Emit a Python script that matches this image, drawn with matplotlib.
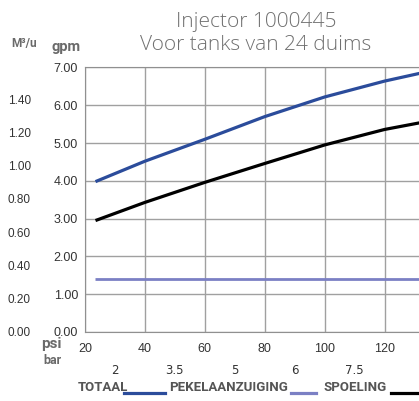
import matplotlib.pyplot as plt
from matplotlib.lines import Line2D

# pressure (psi) and flow (gpm)
psi = [23.5, 40, 60, 80, 100, 120, 132]
totaal = [3.98, 4.52, 5.10, 5.70, 6.22, 6.64, 6.85]
spoeling = [2.95, 3.43, 3.96, 4.46, 4.95, 5.36, 5.54]
pekel = [1.40, 1.40, 1.40, 1.40, 1.40, 1.40, 1.40]

gpm_ticks = [0, 1, 2, 3, 4, 5, 6, 7]
psi_ticks = [20, 40, 60, 80, 100, 120]
m3_ticks = [0.0, 0.2, 0.4, 0.6, 0.8, 1.0, 1.2, 1.4]
bar_ticks_psi = [30, 50, 70, 90, 110]
bar_labels = ['2', '3.5', '5', '6', '7.5']
legend_labels = ['TOTAAL', 'PEKELAANZUIGING', 'SPOELING']

W, H = 419, 401
fig = plt.figure(figsize=(W / 100, H / 100), dpi=100)
ax = fig.add_axes([85 / W, 1 - 332 / H, 1 - 85 / W, (332 - 67.5) / H])

blue = '#2b4c9b'
lav = '#7b80c4'
ax.plot(psi, totaal, color=blue, lw=2.3, solid_capstyle='butt')
ax.plot(psi, spoeling, color='black', lw=2.3, solid_capstyle='butt')
ax.plot(psi, pekel, color=lav, lw=2.0, solid_capstyle='butt')

ax.set_xlim(20, 131.5)
ax.set_ylim(0, 7)
ax.set_xticks(psi_ticks)
ax.set_yticks(gpm_ticks)
ax.set_yticklabels(['%.2f' % v for v in gpm_ticks])
ax.grid(True, color='#a0a0a0', lw=1)
ax.set_axisbelow(True)
for s in ['left', 'bottom', 'top']:
    ax.spines[s].set_color('#909090')
ax.spines['right'].set_visible(False)
ax.tick_params(length=0, colors='#333333', labelsize=9)
ax.tick_params(axis='y', pad=5)
ax.tick_params(axis='x', pad=8)
for lab in ax.get_xticklabels() + ax.get_yticklabels():
    lab.set_family('Liberation Sans')

# second scale: bar
sx = ax.secondary_xaxis('bottom', functions=(lambda x: x, lambda x: x))
sx.set_xticks(bar_ticks_psi, labels=bar_labels)
sx.spines['bottom'].set_visible(False)
sx.tick_params(length=0, pad=23, colors='#333333', labelsize=8.5)
for lab in sx.get_xticklabels():
    lab.set_family('Liberation Sans Narrow')

# second scale: m3/u
sy = ax.secondary_yaxis('left', functions=(lambda x: x * 0.2271, lambda x: x / 0.2271))
sy.set_yticks(m3_ticks, labels=['%.2f' % v for v in m3_ticks])
sy.spines['left'].set_visible(False)
sy.tick_params(length=0, pad=39, colors='#333333', labelsize=8.5)
for lab in sy.get_yticklabels():
    lab.set_family('Liberation Sans')

gray = '#6a6a6a'
lbl = dict(family='Roboto', weight='bold', color=gray)
fig.text(24 / W, 1 - 43 / H, 'M³/u', ha='center', va='center', size=8.5, **lbl)
fig.text(66 / W, 1 - 47 / H, 'gpm', ha='center', va='center', size=10.5, **lbl)
fig.text(51 / W, 1 - 344 / H, 'psi', ha='center', va='center', size=11, **lbl)
fig.text(52 / W, 1 - 361 / H, 'bar', ha='center', va='center', size=9, **lbl)

fig.text(256 / W, 1 - 22 / H, 'Injector 1000445', ha='center', va='center',
         size=15, family='Open Sans', weight='light', color='#707070')
fig.text(256 / W, 1 - 45 / H, 'Voor tanks van 24 duims', ha='center', va='center',
         size=15, family='Open Sans', weight='light', color='#707070')

# legend: label first, then a short line
leg_font = dict(family='Roboto', weight='bold', size=9.5, color='#555555')
text_x = [78, 169, 324]
line_x = [(124, 165), (291, 316), (391, 419)]
line_c = [blue, lav, 'black']
for lab, tx, (x0, x1), c in zip(legend_labels, text_x, line_x, line_c):
    fig.text(tx / W, 1 - 391 / H, lab, ha='left', va='baseline', **leg_font)
    fig.add_artist(Line2D([x0 / W, x1 / W], [1 - 393 / H, 1 - 393 / H],
                          color=c, lw=2.3, transform=fig.transFigure))

fig.savefig('out.png', dpi=100)
